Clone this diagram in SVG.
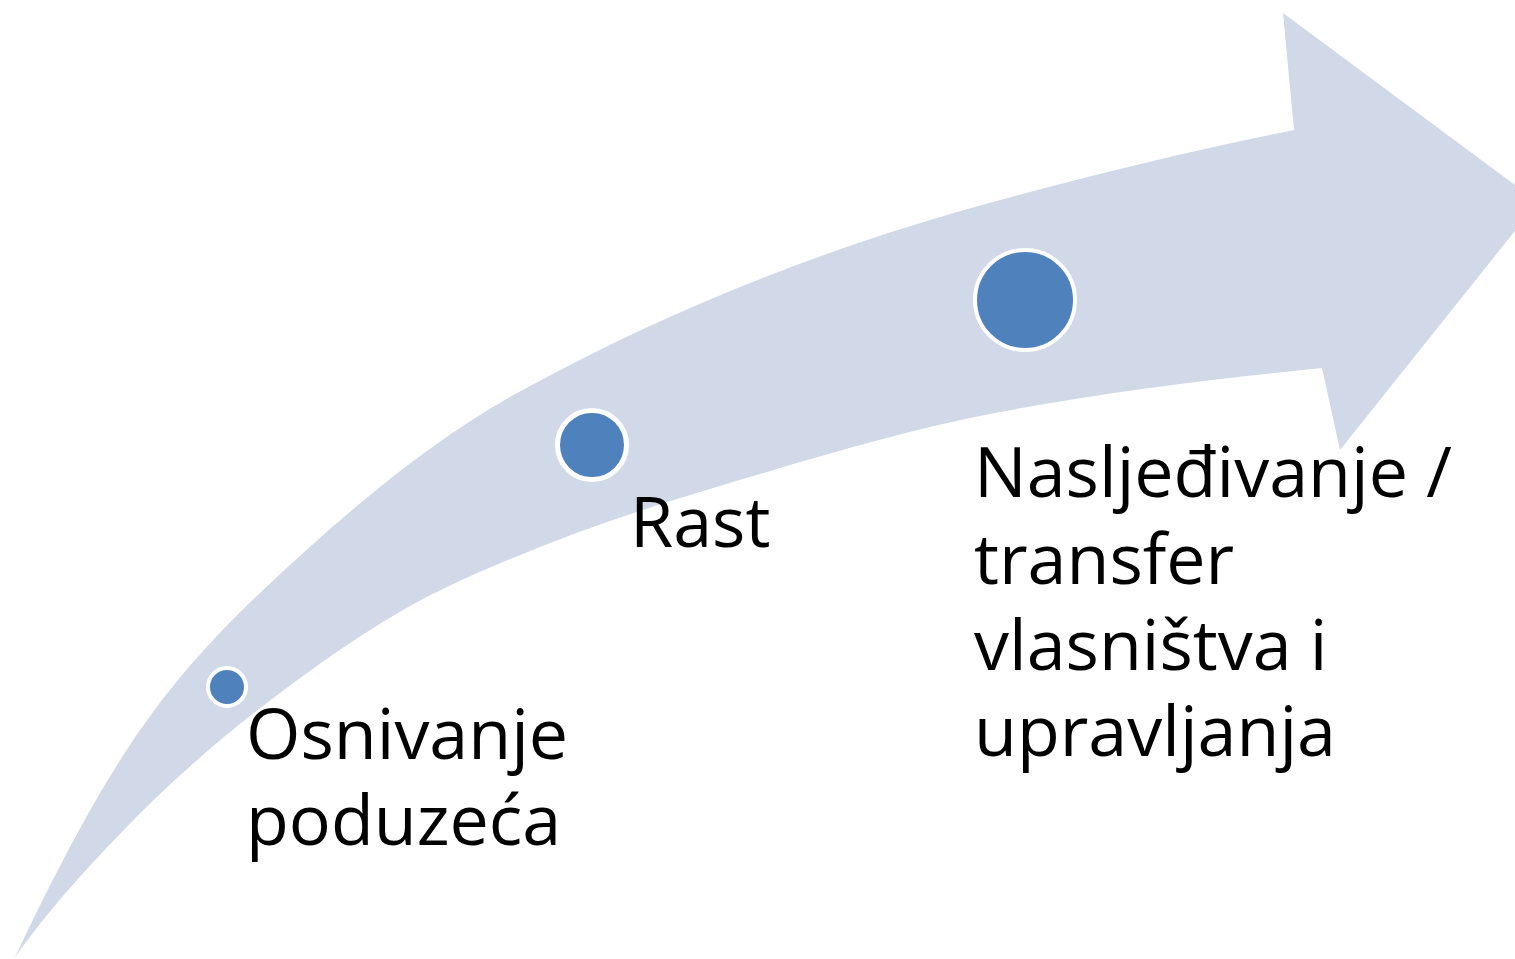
<svg xmlns="http://www.w3.org/2000/svg" width="1515" height="959" viewBox="0 0 1515 959">
<style>
.bg{fill:#ffffff}
.arrow{fill:#D1D9E8;stroke:none}
.dot{fill:#4F81BD;stroke:#ffffff}
.lbl{font-family:"Open Sans","Noto Sans","Liberation Sans",sans-serif;font-size:70px;fill:#000000}
</style>
<rect class="bg" x="0" y="0" width="1515" height="959"/>
<g id="connectors">
<path class="arrow" d="M15,957 C53.3,876.5 91.7,802.5 130,745 C173.3,680 216.7,634.2 260,593 C345.7,511.6 431.3,440.1 517,393 C678,304.4 839,243.5 1000,200 C1097.7,173.6 1195.3,149.5 1294,130 L1283,13 L1538,202 L1340,450 L1322,368 C1214.7,378.7 1107.3,391.6 1000,412 C900,431 800,462 700,492 C615.7,517.3 531.3,547.4 447,587 C391.3,613.2 335.7,651.2 280,693 C225.7,733.7 171.3,780 117,837 C83,872.7 49,909.4 15,957 Z"/>
</g>
<g id="node-osnivanje">
<circle class="dot" cx="227" cy="687" r="19" stroke-width="4"/>
<text class="lbl" x="246" y="759">Osnivanje</text>
<text class="lbl" x="246" y="845">poduzeća</text>
</g>
<g id="node-rast">
<circle class="dot" cx="592" cy="445" r="34.5" stroke-width="5"/>
<text class="lbl" x="630" y="547">Rast</text>
</g>
<g id="node-nasljedivanje">
<circle class="dot" cx="1025" cy="300" r="50" stroke-width="4"/>
<text class="lbl" x="974" y="497">Nasljeđivanje /</text>
<text class="lbl" x="974" y="584">transfer</text>
<text class="lbl" x="974" y="670">vlasništva i</text>
<text class="lbl" x="974" y="756">upravljanja</text>
</g>
</svg>
